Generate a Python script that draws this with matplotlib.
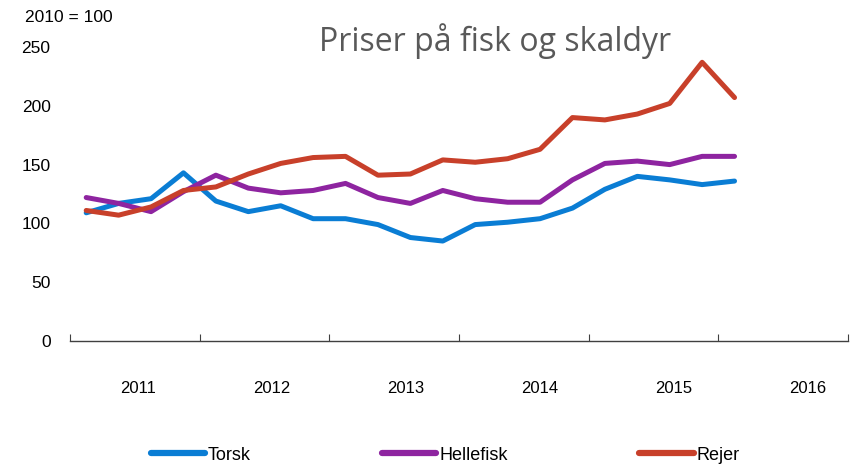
import matplotlib
matplotlib.use("Agg")
import matplotlib.pyplot as plt

# Kvartalsdata 2011K1 - 2016K1, 2010 = 100
quarters = list(range(21))
torsk = [109, 117, 121, 143, 119, 110, 115, 104, 104, 99, 88, 85,
         99, 101, 104, 113, 129, 140, 137, 133, 136]
hellefisk = [122, 117, 110, 127, 141, 130, 126, 128, 134, 122, 117, 128,
             121, 118, 118, 137, 151, 153, 150, 157, 157]
rejer = [111, 107, 114, 128, 131, 142, 151, 156, 157, 141, 142, 154,
         152, 155, 163, 190, 188, 193, 202, 237, 207]
years = ["2011", "2012", "2013", "2014", "2015", "2016"]
yticks = [0, 50, 100, 150, 200, 250]

colors = {"Torsk": "#0A7DD4", "Hellefisk": "#8E24A0", "Rejer": "#C8402A"}
font = ["Liberation Sans", "DejaVu Sans"]

W, H = 851, 467
fig = plt.figure(figsize=(W / 100, H / 100), dpi=100)
ax = fig.add_axes([70 / W, 1 - 341 / H, (848 - 70) / W, (341 - 47) / H])

for name, vals in [("Torsk", torsk), ("Hellefisk", hellefisk), ("Rejer", rejer)]:
    ax.plot(quarters, vals, color=colors[name], lw=3.6, label=name,
            solid_capstyle="round", solid_joinstyle="round", clip_on=False)

ax.set_xlim(-0.5, 23.5)
ax.set_ylim(0, 250)

for s in ["top", "right", "left"]:
    ax.spines[s].set_visible(False)
ax.spines["bottom"].set_linewidth(1.0)
ax.spines["bottom"].set_color("#404040")

# år-grenser som ticks, årstal i midten
ax.set_xticks([-0.5 + 4 * i for i in range(7)])
ax.tick_params(axis="x", direction="in", length=5, width=0.8, color="#404040",
               labelbottom=False)
for i, y in enumerate(years):
    ax.text(1.6 + 4.13 * i, -40, y, ha="center", va="center", fontsize=12,
            family=font, stretch="condensed")

ax.set_yticks(yticks)
ax.set_yticklabels([str(v) for v in yticks], fontsize=12.5, family=font)
ax.tick_params(axis="y", length=0, pad=14)

fig.text(25 / W, 1 - 18 / H, "2010 = 100", fontsize=12.5, family=font,
         ha="left", va="center")
fig.text(495 / W, 1 - 41 / H, "Priser på fisk og skaldyr", fontsize=23,
         family=["Open Sans", "DejaVu Sans"], color="#595959",
         ha="center", va="center")

leg = fig.legend(loc="center", bbox_to_anchor=(445 / W, 1 - 455 / H), ncol=3,
                 frameon=False, handlelength=3.0, handletextpad=0.15,
                 columnspacing=7.3, prop={"family": font, "size": 13})
for line in leg.get_lines():
    line.set_linewidth(4.5)
    line.set_solid_capstyle("round")

fig.savefig("out.png", dpi=100)
